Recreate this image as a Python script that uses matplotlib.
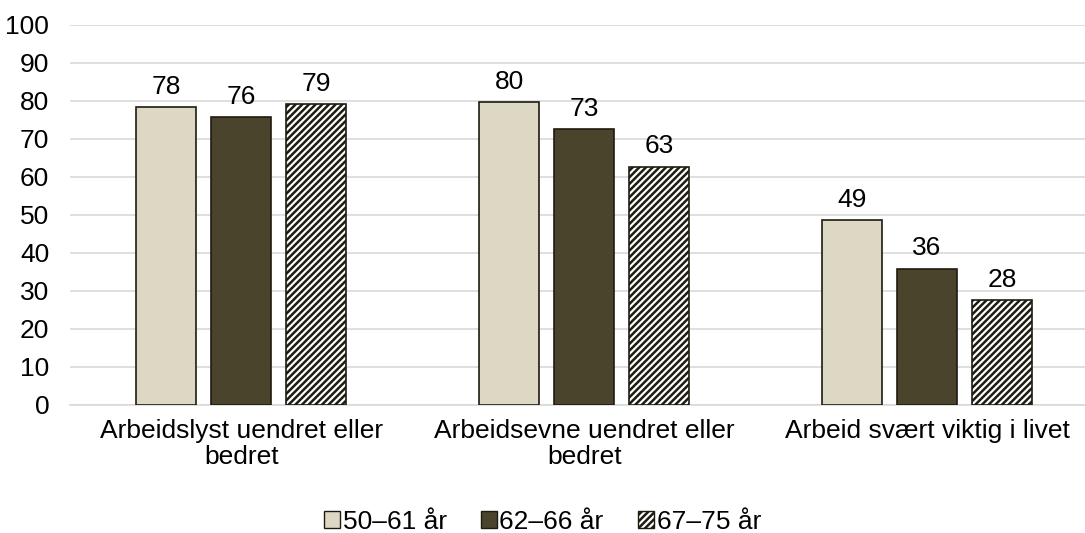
import numpy as np
import matplotlib.pyplot as plt
from matplotlib.patches import Patch

plt.rcParams['font.family'] = ['Liberation Sans', 'DejaVu Sans']
plt.rcParams['hatch.color'] = '#000000'
plt.rcParams['hatch.linewidth'] = 1.8

# data
categories = ['Arbeidslyst uendret eller\nbedret',
              'Arbeidsevne uendret eller\nbedret',
              'Arbeid svært viktig i livet']
series_names = ['50–61 år', '62–66 år', '67–75 år']
values_5061 = [78.3, 79.7, 48.6]
values_6266 = [75.8, 72.6, 35.9]
values_6775 = [79.1, 62.7, 27.6]
series_vals = [values_5061, values_6266, values_6775]

colors = ['#DDD8C3', '#4A442D', 'white']
hatches = [None, None, '/////']
edge = '#1E1B10'
fs = 19

fig = plt.figure(figsize=(10.85, 5.33), dpi=100)
ax = fig.add_axes([70 / 1085, 128 / 533, 1015 / 1085, 380 / 533])

x = np.arange(len(categories))
width = 0.175
step = 0.2187
for i, (name, vals) in enumerate(zip(series_names, series_vals)):
    bars = ax.bar(x + (i - 1) * step, vals, width, color=colors[i], hatch=hatches[i],
                  edgecolor=edge, linewidth=1.2, label=name, zorder=3)
    ax.bar_label(bars, labels=[f'{v:.0f}' for v in vals], padding=6, fontsize=fs)

ax.set_ylim(0, 100)
ax.set_yticks(np.arange(0, 101, 10))
ax.set_xlim(-0.5, 2.461)
ax.set_xticks(x)
ax.set_xticklabels(categories, fontsize=fs, linespacing=1.1)
ax.tick_params(axis='y', length=0, pad=15, labelsize=fs)
ax.tick_params(axis='x', length=0, pad=10)
ax.grid(axis='y', color='#D9D9D9', linewidth=1.2, zorder=0)
for s in ['top', 'right', 'left']:
    ax.spines[s].set_visible(False)
ax.spines['bottom'].set_color('#D9D9D9')
ax.spines['bottom'].set_linewidth(1.2)

handles = [Patch(facecolor=colors[i], edgecolor=edge, hatch=hatches[i], label=series_names[i])
           for i in range(3)]
fig.legend(handles=handles, loc='center', bbox_to_anchor=(0.5, 11 / 533), ncol=3,
           frameon=False, fontsize=fs, handlelength=0.6, handleheight=0.6,
           handletextpad=0.1, columnspacing=1.3)

fig.savefig('out.png', dpi=100)
